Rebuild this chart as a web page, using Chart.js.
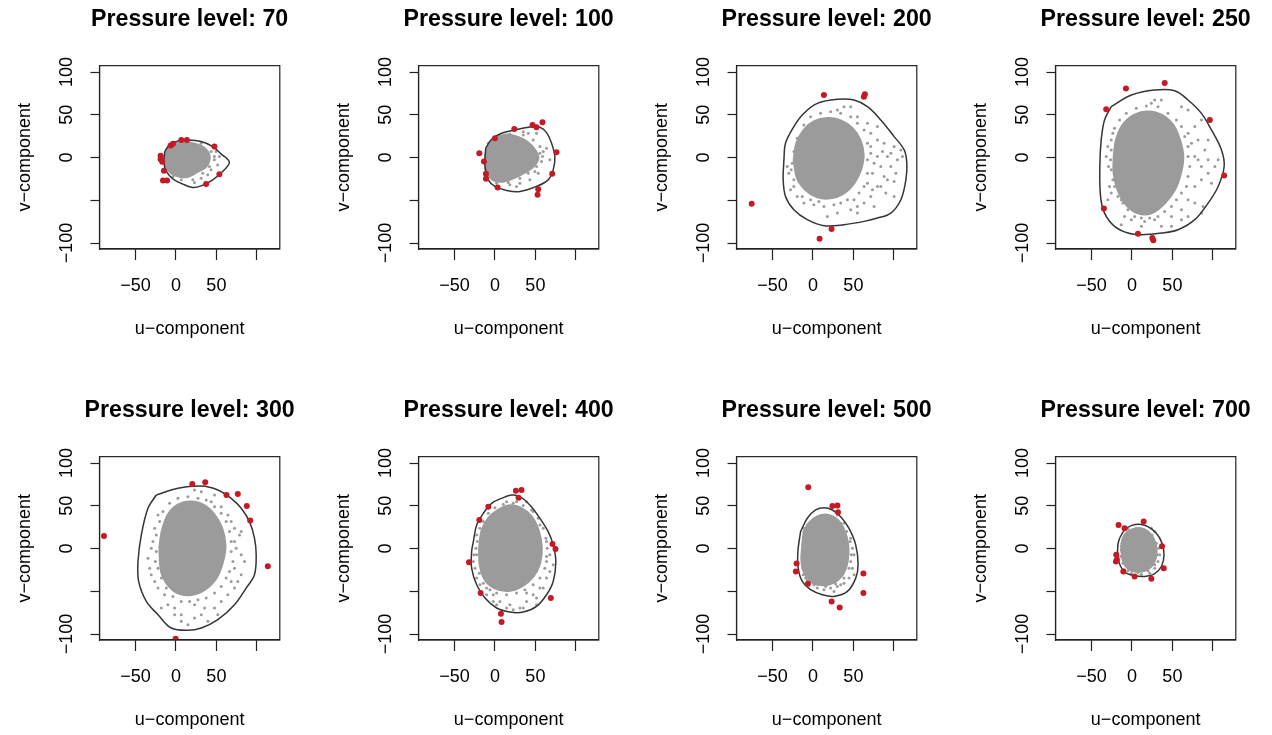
<!DOCTYPE html>
<html><head><meta charset="utf-8">
<script src="https://cdn.jsdelivr.net/npm/chart.js@4.4.0/dist/chart.umd.min.js"></script>
<style>
html,body{margin:0;padding:0;background:#fff;}
body{width:1272px;height:735px;overflow:hidden;position:relative;}
canvas{position:absolute;}
</style></head><body>
<script>
// ---------- data ----------
const levels = [70, 100, 200, 250, 300, 400, 500, 700];
const xTicks = [-50, 0, 50, 100];
const xTickLabels = ['\u221250', '0', '50', ''];
const yTicks = [-100, -50, 0, 50, 100];
const yTickLabels = ['\u2212100', '', '0', '50', '100'];
const xLabel = 'u\u2212component';
const yLabel = 'v\u2212component';

// Pressure level 70
const out70 = [[-19,2],[-19,-2],[-17,-5],[-14.8,-15.6],[-16,-27],[-11,-27],[-6.6,14],[-3.7,16],[6.6,20.6],[13.5,20.6],[47.5,12.8],[53.7,-19.5],[37.3,-31]];
const fence70 = [[-13.9,7],[-7.8,14.8],[2.5,19.5],[14.8,20.6],[31.1,18.7],[45.5,12.8],[55.7,4.3],[66,-5.4],[57.8,-16.3],[45.5,-26.1],[31.1,-33.1],[20.9,-35],[8.6,-31.1],[-3.7,-24.9],[-11.9,-16.3],[-14.8,-6.6]];
const core70 = [[-11.9,8.9],[-3.7,16],[8.6,17.5],[23,16],[35.2,10.9],[41.4,1.2],[37.3,-10.5],[27,-16.3],[14.8,-22.2],[4.5,-22.2],[-5.7,-18.3],[-11.9,-10.5],[-13.9,-0.8]];
const fringe70 = [[47.5,-2.7],[51.6,-8.6],[43.4,-14.4],[31.1,-24.1],[23,-29.2],[39.3,-20.2],[53.7,1.2],[49.6,7],
  [-9.8,10.9],[-1.6,17.5],[14.8,19.1],[31.1,16.7],[43.4,7],[47.5,1.2],[41.4,-10.5],[33.2,-18.3],[20.9,-26.1],[6.6,-26.1],[-3.7,-22.2],[-10.7,-14.4]];

// Pressure level 100
const out100 = [[-19.3,5.1],[-13.6,-4.7],[-11.1,-19.1],[-11.1,-24.9],[0,22.6],[3.3,-35],[23.9,33.5],[46.5,38.1],[51.4,35.4],[58.8,41.2],[76.1,6.2],[70.8,-19.1],[53.5,-37],[52.7,-43.6]];
const fence100 = [[-11.5,10.9],[-4.1,21.4],[8.2,28.4],[24.7,32.3],[41.2,35.4],[55.6,35.4],[63.8,29.2],[70,16.7],[74.1,1.2],[72,-14.4],[65.8,-26.1],[51.4,-33.8],[30.9,-39.7],[14.4,-38.5],[0,-33.8],[-8.2,-26.1],[-12.3,-10.5]];
const core100 = [[-10.3,8.9],[-2.1,20.6],[12.3,26.5],[26.7,24.5],[39.1,18.7],[49.4,8.9],[53.5,-0.8],[47.3,-10.5],[35,-18.3],[22.6,-24.1],[10.3,-28],[-2.1,-26.1],[-10.3,-16.3],[-11.9,-2.7]];
const fringe100 = [[55.6,12.8],[59.7,7],[57.6,-4.7],[63.8,10.9],[49.4,-16.3],[53.5,-18.3],[43.2,-26.1],[30.9,-30],[67.9,-2.7],[51.4,28.4],[41.2,28.4],[35,30.3],[18.5,-31.9],[26.7,-33.8],
  [-8.2,16.7],[2.1,24.5],[18.5,27.6],[35,26.5],[47.3,20.6],[55.6,5.1],[58.8,1.2],[51.4,-10.5],[41.2,-18.3],[30.9,-24.1],[16.5,-29.2],[2.1,-30],[-8.2,-22.2],[-10.3,-6.6]];

// Pressure level 200
const out200 = [[13.6,73.1],[63,71.2],[64.2,73.9],[-75.7,-54.1],[23,-83.6],[8.2,-94.9]];
const fence200 = [[-35.9,-2.7],[-33.9,16.7],[-23.6,36.2],[-11.2,51.7],[5.4,63.4],[30.2,68.1],[50.8,67.3],[67.4,59.5],[83.9,44],[100.4,24.5],[112.8,8.9],[116.1,-6.6],[114.9,-26.1],[108.7,-49.4],[96.3,-65],[79.7,-70.8],[63.2,-74.7],[38.4,-78.6],[13.6,-79.7],[-7,-72.7],[-23.6,-61.1],[-33.9,-45.5],[-36.8,-26.1]];
const core200 = [[-23.6,-2.7],[-20.2,16.7],[-11.2,32.3],[1.2,42],[17.8,45.9],[34.3,43.2],[48.8,34.2],[58.3,20.6],[62.4,3.1],[59.1,-14.4],[50.8,-30],[38.4,-41.6],[21.9,-47.5],[5.4,-46.3],[-9.1,-37.7],[-19.4,-24.1]];
const fringe200 = [[71.5,28.4],[79.7,20.6],[85.9,7],[92.1,1.2],[100.4,12.8],[108.7,8.9],[110.7,1.2],[96.3,-10.5],[102.5,-18.3],[88,-22.2],[100.4,-28],[79.7,-33.8],[90.1,-41.6],[71.5,-45.5],[75.6,-57.2],[63.2,-53.3],[55,-57.2],[46.7,-61.1],[30.2,-65],[17.8,-68.9],[13.6,-57.2],[1.2,-55.2],[-11.2,-53.3],[-19.4,-45.5],[-27.7,-37.7],[-29.8,-18.3],[-31.8,-10.5],[-23.6,-33.8],[38.4,59.5],[30.2,55.6],[46.7,59.5],[55,47.8],[67.4,40.1],[79.7,36.2],[71.5,12.8],[83.9,-10.5],[67.4,-30],[100.4,-45.5],
  [67.4,16.7],[71.5,5.1],[67.4,-2.7],[75.6,-6.6],[79.7,1.2],[73.6,-18.3],[67.4,-18.3],[63.2,-33.8],[57,-41.6],[50.8,-49.4],[42.6,-49.4],[34.3,-53.3],[26,-55.2],[7.4,-51.3],[-2.9,-49.4],[-13.2,-45.5],[-23.6,-26.1],[-26.9,-14.4],[-25.6,-6.6],[-23.6,7],[-19.4,22.6],[-11.2,38.1],[-2.9,47.8],[9.5,51.7],[21.9,53.7],[34.3,51.7],[46.7,47.8],[55,40.1],[63.2,32.3],[88,16.7],[96.3,5.1],[104.5,-2.7],[92.1,-26.1],[83.9,-33.8],[73.6,-37.7],[55,-65]];

// Pressure level 250
const out250 = [[-31.8,56.4],[-7.4,80.9],[40.5,87.1],[96.3,44],[114,-21],[-34.7,-59.5],[7.4,-89.1],[25.2,-94.1],[26.4,-96.9]];
const fence250 = [[-25.6,59.5],[-0.8,73.1],[28.1,79],[52.9,78.2],[69.4,67.3],[85.9,51.7],[98.3,32.3],[110.7,8.9],[114,-10.5],[106.6,-33.8],[94.2,-53.3],[77.7,-72.7],[57,-84.4],[36.4,-88.3],[11.6,-90.2],[-5,-88.3],[-21.5,-80.5],[-33.9,-65],[-38.8,-45.5],[-39.7,-10.5],[-38,20.6],[-33.9,44]];
const core250 = [[-22.3,1.2],[-19.4,20.6],[-11.2,38.1],[3.3,49.8],[19.8,53.7],[36.4,49.8],[50.8,38.1],[59.1,20.6],[63.2,1.2],[60.3,-18.3],[52.9,-37.7],[40.5,-53.3],[24,-65],[7.4,-65],[-7,-55.2],[-17.4,-37.7],[-22.3,-18.3]];
const fringe250 = [[-29.8,12.8],[-31.8,1.2],[-28.9,-10.5],[-27.7,-33.8],[-25.6,-41.6],[-13.2,-49.4],[-9.1,-68.9],[-0.8,-72.7],[15.7,-74.7],[28.1,-72.7],[36.4,-80.5],[48.8,-68.9],[61.2,-61.1],[69.4,-49.4],[77.7,-33.8],[85.9,-26.1],[94.2,-18.3],[98.3,-30],[102.5,-10.5],[106.6,-2.7],[94.2,-2.7],[81.8,-2.7],[73.6,16.7],[69.4,28.4],[77.7,36.2],[85.9,44],[69.4,55.6],[61.2,59.5],[28.1,67.3],[36.4,67.3],[24,63.4],[-23.6,28.4],[-25.6,20.6],[-29.8,-49.4],[88,-57.2],[85.9,-65],[11.6,-80.5],[-13.2,-78.6],
  [-25.6,8.9],[-26.4,-2.7],[-25.6,-14.4],[-23.6,-26.1],[-21.5,-33.8],[-17.4,-45.5],[-11.2,-53.3],[-5,-61.1],[3.3,-68.9],[11.6,-70.8],[21.9,-70.8],[32.2,-68.9],[40.5,-63],[48.8,-57.2],[55,-49.4],[61.2,-41.6],[67.4,-33.8],[69.4,-22.2],[71.5,-10.5],[69.4,1.2],[69.4,12.8],[65.3,24.5],[61.2,36.2],[55,44],[44.6,51.7],[32.2,59.5],[17.8,60.3],[5.4,57.6],[-7,51.7],[-15.3,44],[-21.5,34.2],[77.7,1.2],[85.9,-10.5],[90.1,8.9],[81.8,20.6],[94.2,20.6],[77.7,-53.3],[69.4,-68.9],[61.2,-72.7],[48.8,-80.5]];

// Pressure level 300
const out300 = [[-88.9,14.8],[20.2,75.5],[36.2,77.4],[62.5,62.6],[76.5,63.8],[87.6,49.8],[91.8,32.7],[113.6,-20.6],[-0.4,-105.4]];
const fence300 = [[-24.3,62.6],[2.5,70.4],[31.3,73.1],[51.8,68.5],[68.3,58.7],[80.7,47.1],[90.9,31.5],[97.1,12.1],[99.2,-7.4],[97.1,-30.7],[86.8,-46.3],[72.4,-65.7],[51.8,-83.2],[31.3,-93],[14.8,-95.7],[-5.8,-93],[-22.2,-77.4],[-36.6,-61.9],[-46.1,-38.5],[-46.9,-15.2],[-42.8,15.9],[-34.6,47.1]];
const core300 = [[-20.2,0.4],[-17.3,19.8],[-9.9,39.3],[2.5,51],[18.9,54.8],[35.4,50.2],[47.7,39.3],[56.8,23.7],[60.9,4.3],[58,-15.2],[49.8,-34.6],[35.4,-48.2],[18.9,-54.1],[2.5,-52.1],[-9.9,-42.4],[-18.1,-26.8]];
const fringe300 = [[-34.6,-11.3],[-32.5,-23],[-30.5,-30.7],[-26.3,-38.5],[-22.2,-46.3],[-14,-54.1],[-9.9,-65.7],[-1.6,-69.6],[6.6,-77.4],[14.8,-89.1],[6.6,-85.2],[23,-65.7],[31.3,-77.4],[35.4,-69.6],[47.7,-69.6],[56,-61.9],[64.2,-54.1],[72.4,-46.3],[76.5,-38.5],[80.7,-30.7],[68.3,-38.5],[84.8,-15.2],[80.7,-7.4],[78.6,15.9],[72.4,23.7],[68.3,31.5],[64.2,39.3],[56,49],[43.6,54.8],[47.7,62.6],[31.3,66.5],[23,68.5],[-22.2,39.3],[-26.3,23.7],[-28.4,8.2],[-30.5,0.4],[72.4,8.2],[80.7,19.8],
  [-24.3,-3.5],[-25.5,-15.2],[-22.2,-23],[-18.1,-34.6],[-11.9,-46.3],[-3.7,-56],[6.6,-61.9],[16.9,-61.9],[27.2,-59.9],[37.4,-58],[47.7,-52.1],[56,-44.3],[62.1,-34.6],[66.2,-26.8],[70.4,-15.2],[68.3,-3.5],[68.3,8.2],[66.2,19.8],[62.1,31.5],[56,41.2],[47.7,49],[37.4,56.8],[27.2,58.7],[14.8,60.7],[2.5,58.7],[-7.8,52.9],[-16,43.2],[-20.2,31.5],[-24.3,15.9],[74.5,0.4],[72.4,-23],[51.8,-77.4],[39.5,-85.2],[23,-81.3],[-1.6,-77.4],[-18.1,-69.6]];

// Pressure level 400
const out400 = [[25.9,67.7],[32.9,68.5],[29.2,59.5],[-8.2,49],[-19.3,33.5],[-32.1,-15.9],[-17.7,-52.1],[71.2,5.4],[74.9,-0.4],[69.1,-58],[7.4,-76.2],[8.2,-86]];
const fence400 = [[-26.7,8.2],[-22.6,27.6],[-14.4,41.2],[-4.1,52.9],[8.2,58.7],[20.6,62.6],[30.9,60.7],[43.2,51],[55.6,35.4],[65.8,19.8],[72,4.3],[75.3,-15.2],[72,-38.5],[63.8,-54.1],[51.4,-67.7],[35,-74.3],[18.5,-74.3],[2.1,-69.6],[-12.3,-58],[-22.6,-42.4],[-28.8,-23],[-28.8,-3.5]];
const core400 = [[-19.3,0.4],[-16.5,19.8],[-8.2,35.4],[4.1,45.1],[18.5,50.2],[32.9,47.1],[45.3,37.3],[53.5,21.8],[57.6,2.3],[55.6,-17.1],[47.3,-32.7],[32.9,-44.3],[16.5,-49.4],[0,-46.3],[-12.3,-36.6],[-18.5,-19.1]];
const fringe400 = [[-22.6,-34.6],[-18.5,-42.4],[-10.3,-54.1],[-2.1,-54.1],[6.2,-61.9],[18.5,-65.7],[30.9,-69.6],[39.1,-61.9],[47.3,-54.1],[55.6,-46.3],[63.8,-34.6],[67.9,-26.8],[63.8,-15.2],[67.9,-7.4],[59.7,-46.3],[51.4,-58],[22.6,-71.6],[72,-19.1],[-26.7,-15.2],[-24.7,-23],[-25.9,-7.4],[-22.6,15.9],[14.4,54.8],[26.7,54.8],[39.1,54.8],[47.3,43.2],[55.6,27.6],[63.8,8.2],[39.1,-52.1],[-10.3,-46.3],[-2.1,-61.9],
  [-22.6,-7.4],[-23.5,0.4],[-21.8,8.2],[-18.5,23.7],[-14.4,31.5],[-8.2,41.2],[0,47.8],[10.3,51.7],[22.6,52.9],[35,50.2],[45.3,45.1],[53.5,35.4],[59.7,23.7],[63,12.1],[64.6,0.4],[63.8,-9.3],[61.7,-23],[55.6,-34.6],[47.3,-42.4],[37,-48.2],[26.7,-52.1],[14.4,-54.1],[2.1,-52.1],[-6.2,-48.2],[-14.4,-40.5],[-19.3,-28.8],[51.4,-65.7],[35,-69.6],[14.4,-69.6],[2.1,-65.7]];

// Pressure level 500
const out500 = [[-5.8,71.6],[24,49.8],[30.2,50.2],[31,42.4],[-20.2,-17.5],[-21.1,-26.8],[-6.2,-41.2],[62.4,-29.2],[62.4,-52.1],[23.1,-61.9],[33.1,-68.9]];
const fence500 = [[-15.3,19.8],[-7,35.4],[3.3,45.1],[13.6,47.8],[24,45.1],[34.3,37.3],[44.6,23.7],[52.9,4.3],[55.8,-19.1],[52.9,-34.6],[42.6,-50.2],[26,-56],[11.6,-54.1],[-2.9,-48.2],[-13.2,-38.5],[-18.2,-23],[-18.6,-3.5]];
const core500 = [[-13.2,0.4],[-11.2,17.9],[-5,29.6],[5.4,37.3],[17.8,39.3],[30.2,33.5],[38.4,21.8],[43.4,4.3],[42.6,-15.2],[36.4,-30.7],[24,-40.5],[9.5,-42.4],[-2.9,-38.5],[-11.2,-26.8],[-14,-13.2]];
const fringe500 = [[46.7,-15.2],[48.8,-23],[50.8,-30.7],[44.6,-34.6],[38.4,-40.5],[30.2,-44.3],[21.9,-46.3],[13.6,-48.2],[5.4,-46.3],[-9.1,-34.6],[-12,-30.7],[50.8,-7.4],[48.8,0.4],[46.7,12.1],[38.4,29.6],[30.2,39.3],[-11.2,23.7],[34.3,-42.4],[26,-50.2],
  [-12,8.2],[-11.2,19.8],[-7,27.6],[1.2,34.6],[11.6,37.3],[24,36.2],[34.3,29.6],[41.7,19.8],[45.9,8.2],[47.5,-7.4],[44.6,-23],[38.4,-34.6],[28.1,-41.6],[15.7,-44.3],[1.2,-42.4],[-7,-36.6],[-12.4,-23],[-13.2,-7.4]];

// Pressure level 700
const out700 = [[-16.5,27.6],[-9.1,23.7],[14.5,31.5],[37.2,2.7],[-19.4,-7.4],[-18.6,-13.2],[-19.8,-15.2],[-10.7,-26.8],[3.3,-32.7],[24,-35.4],[39.3,-23]];
const fence700 = [[-15.3,12.1],[-9.1,21.8],[-0.8,26.8],[9.5,28.4],[19.8,25.7],[30.2,17.9],[37.2,6.2],[39.7,-7.4],[36.4,-21],[27.3,-30],[15.7,-32.7],[3.3,-31.9],[-7,-28.8],[-14,-21],[-17.4,-9.3],[-17.4,4.3]];
const core700 = [[-13.2,4.3],[-9.1,15.9],[-0.8,21.8],[9.5,23.7],[19.8,19.8],[27.3,10.1],[30.2,-3.5],[26.9,-17.1],[17.8,-24.9],[5.4,-26.8],[-5,-23],[-11.2,-13.2]];
const fringe700 = [[33.1,0.4],[34.3,-7.4],[32.2,-15.2],[28.1,-23],[21.9,-28.8],[11.6,-30],[-0.8,-28.8],[-9.1,-24.9],[28.1,19.8],[24,23.7],[-5,23],
  [-13.2,-1.6],[-11.2,10.1],[-5,19.1],[5.4,23],[15.7,21.8],[24.8,15.9],[30.2,6.2],[31.4,-7.4],[28.1,-19.1],[19.8,-26.1],[7.4,-28],[-5,-26.1],[-11.2,-17.1],[-14,-9.3]];

const outliers = [out70, out100, out200, out250, out300, out400, out500, out700];
const fences = [fence70, fence100, fence200, fence250, fence300, fence400, fence500, fence700];
const cores = [core70, core100, core200, core250, core300, core400, core500, core700];
const fringes = [fringe70, fringe100, fringe200, fringe250, fringe300, fringe400, fringe500, fringe700];

// ---------- layout / style ----------
const colLeft = [0, 319, 637, 956];
const rowTop = [0, 391];
const CW = 318, CH = 344;
const GRAY = '#9b9b9b';
const RED = '#c41a26';
const LINE = '#353535';
const FAMILY = '"Liberation Sans", Arial, Helvetica, sans-serif';

const framePlugin = {
  id: 'frame',
  afterLayout(chart) {
    // keep the title centred over the plot region, but let it overhang it (R main title)
    const t = chart.titleBlock;
    if (t) { t.left -= 70; t.right += 70; t.width = t.right - t.left; }
  },
  afterDraw(chart) {
    const a = chart.chartArea, ctx = chart.ctx;
    ctx.save();
    ctx.strokeStyle = '#222';
    ctx.lineWidth = 1.2;
    ctx.strokeRect(a.left, a.top, a.right - a.left, a.bottom - a.top);
    ctx.restore();
  }
};

const toPts = arr => arr.map(p => ({x: p[0], y: p[1]}));
const closed = arr => { const p = toPts(arr); p.push({x: arr[0][0], y: arr[0][1]}); return p; };

levels.forEach((lvl, i) => {
  const cv = document.createElement('canvas');
  cv.width = CW; cv.height = CH;
  cv.style.left = colLeft[i % 4] + 'px';
  cv.style.top = rowTop[Math.floor(i / 4)] + 'px';
  document.body.appendChild(cv);
  const font = {family: FAMILY, size: 18};
  new Chart(cv, {
    type: 'scatter',
    data: {
      datasets: [
        {type: 'scatter', data: toPts(outliers[i]), pointRadius: 3, pointBackgroundColor: RED, pointBorderWidth: 0, order: 0},
        {type: 'line', data: closed(fences[i]), borderColor: LINE, borderWidth: 1.5, pointRadius: 0, tension: 0.35, fill: false, order: 1},
        {type: 'scatter', data: toPts(fringes[i]), pointRadius: 1.5, pointBackgroundColor: GRAY, pointBorderWidth: 0, order: 2},
        {type: 'line', data: closed(cores[i]), borderColor: GRAY, backgroundColor: GRAY, borderWidth: 2.5, pointRadius: 0, tension: 0.3, fill: 'shape', order: 3}
      ]
    },
    options: {
      responsive: false,
      animation: false,
      events: [],
      layout: {padding: {left: 0, right: 38.2, top: 0, bottom: 0}},
      plugins: {
        legend: {display: false},
        tooltip: {enabled: false},
        title: {display: true, fullSize: false, text: 'Pressure level: ' + lvl, color: '#000',
          font: {family: FAMILY, size: 23.2, weight: 'bold'}, padding: {top: 6, bottom: 31.8}}
      },
      scales: {
        x: {
          type: 'linear', min: -94.5, max: 128.4,
          afterBuildTicks: s => { s.ticks = xTicks.map(v => ({value: v})); },
          afterFit: s => { s.height = 95; },
          ticks: {autoSkip: false, maxRotation: 0, minRotation: 0, color: '#000', font: font, padding: 15,
            callback: v => xTickLabels[xTicks.indexOf(v)]},
          grid: {drawOnChartArea: false, drawTicks: true, tickLength: 11, tickColor: '#222', tickWidth: 1.2},
          border: {display: true, color: '#222', width: 1.2},
          title: {display: true, text: xLabel, color: '#000', font: font, padding: {top: 0, bottom: 4}}
        },
        y: {
          type: 'linear', min: -107, max: 107.5,
          afterBuildTicks: s => { s.ticks = yTicks.map(v => ({value: v})); },
          afterFit: s => { s.width = 99.5; },
          ticks: {autoSkip: false, minRotation: 90, maxRotation: 90, crossAlign: 'center', color: '#000', font: font, padding: 3,
            callback: v => yTickLabels[yTicks.indexOf(v)]},
          grid: {drawOnChartArea: false, drawTicks: true, tickLength: 9, tickColor: '#222', tickWidth: 1.2},
          border: {display: true, color: '#222', width: 1.2},
          title: {display: true, text: yLabel, color: '#000', font: font, padding: {top: 14.5, bottom: 0}}
        }
      }
    },
    plugins: [framePlugin]
  });
});
</script>
</body></html>
